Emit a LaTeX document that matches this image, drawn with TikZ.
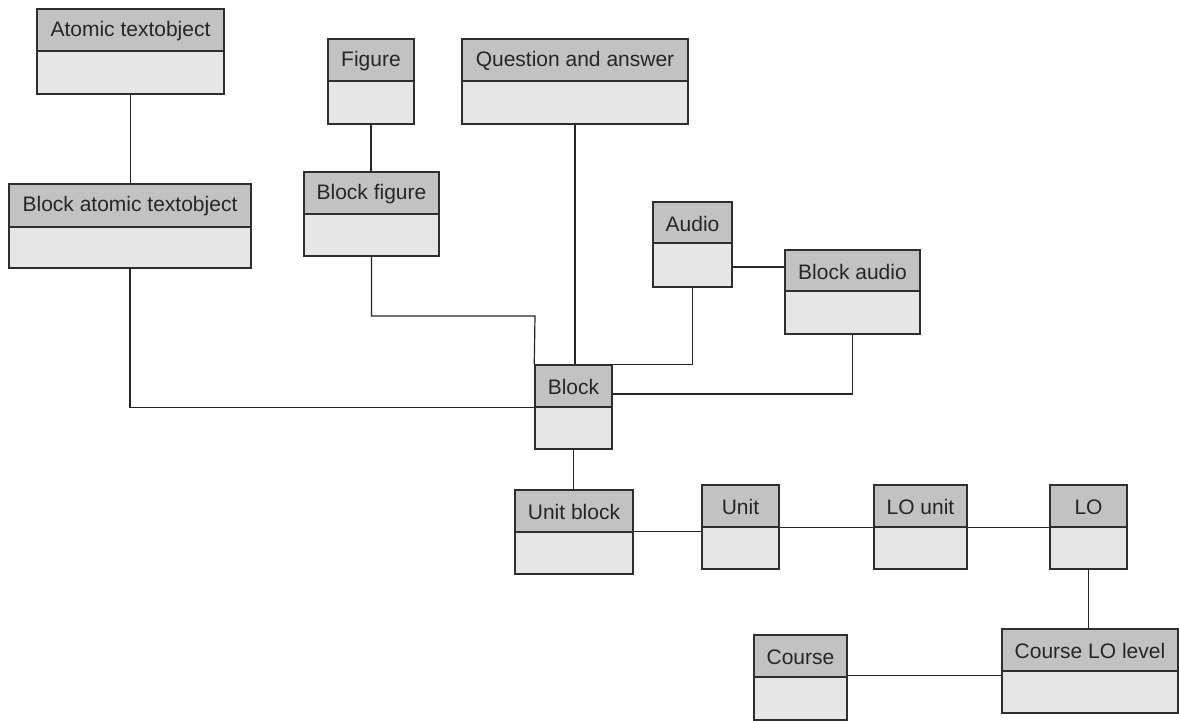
\documentclass[tikz,border=0pt]{standalone}
\usepackage{fontspec}
\setmainfont{Liberation Sans}
\usetikzlibrary{fit}

\definecolor{hdrgray}{HTML}{C2C2C2}
\definecolor{bodygray}{HTML}{E6E6E6}
\definecolor{edgegray}{HTML}{2E2E2E}

\tikzset{
  classhdr/.style={draw=edgegray, line width=0.75pt, fill=hdrgray, inner sep=0pt},
  classbody/.style={draw=edgegray, line width=0.75pt, fill=bodygray, inner sep=0pt},
  classtitle/.style={font=\fontsize{10.5}{12}\selectfont, text=black!85, inner sep=0pt},
  link/.style={draw=black!85, line width=0.6pt}
}

% class box: name, left, top, right, header bottom, bottom, title
\newcommand{\classbox}[7]{%
  \node[classbody, fit={(#2,#5) (#4,#6)}] (#1-b) {};
  \node[classhdr, fit={(#2,#3) (#4,#5)}] (#1-h) {};
  \node[classtitle] (#1-t) at ([yshift=-0.5pt]#1-h.center) {#7};
}

\begin{document}
\begin{tikzpicture}[x=0.5pt, y=-0.5pt]
\useasboundingbox (0,0) rectangle (1179,720);

% class boxes
\classbox{ato}{37}{9}{224}{51}{94}{Atomic textobject}
\classbox{bato}{9}{184}{251}{227}{268}{Block atomic textobject}
\classbox{fig}{328}{39}{414}{81}{124}{Figure}
\classbox{bfig}{304}{172}{439}{214}{256}{Block figure}
\classbox{qa}{462}{39}{688}{81}{124}{Question and answer}
\classbox{aud}{653}{202}{732}{243}{287}{Audio}
\classbox{baud}{785}{250}{920}{291}{334}{Block audio}
\classbox{blk}{535}{365}{612}{407}{449}{Block}
\classbox{ublk}{515}{490}{633}{532}{574}{Unit block}
\classbox{unit}{702}{485}{779}{527}{569}{Unit}
\classbox{lou}{874}{485}{967}{527}{569}{LO unit}
\classbox{lo}{1050}{485}{1127}{527}{569}{LO}
\classbox{crs}{754}{635}{847}{677}{720}{Course}
\classbox{clo}{1002}{629}{1178}{671}{713}{Course LO level}

% bend points of the routed associations
\coordinate (figbend) at (535,316);
\coordinate (audbend) at (612,394);

% associations
\draw[link] (ato-b.south) -- (ato-b.south |- bato-h.north);
\draw[link] (bato-b.south) |- (blk-h.south west);
\draw[link] (fig-b.south) -- (fig-b.south |- bfig-h.north);
\draw[link] (bfig-b.south) |- (figbend) -- (blk-h.north west);
\draw[link] (qa-b.south) -- (qa-b.south |- blk-h.north);
\draw[link] (aud-b.south) |- (blk-h.north east);
\draw[link] ([yshift=-1pt]aud-b.east) -- ([yshift=-1pt]aud-b.east -| baud-h.west);
\draw[link] (baud-b.south) |- (audbend);
\draw[link] (blk-b.south) -- (blk-b.south |- ublk-h.north);
\draw[link] ([yshift=0.75pt]ublk-h.south east) -- ([yshift=0.75pt]ublk-h.south east -| unit-h.west);
\draw[link] (unit-h.south east) -- (lou-h.south west);
\draw[link] (lou-h.south east) -- (lo-h.south west);
\draw[link] (lo-b.south) -- (lo-b.south |- clo-h.north);
\draw[link] ([yshift=1pt]crs-h.south east) -- ([yshift=1pt]crs-h.south east -| clo-b.west);
\end{tikzpicture}
\end{document}
